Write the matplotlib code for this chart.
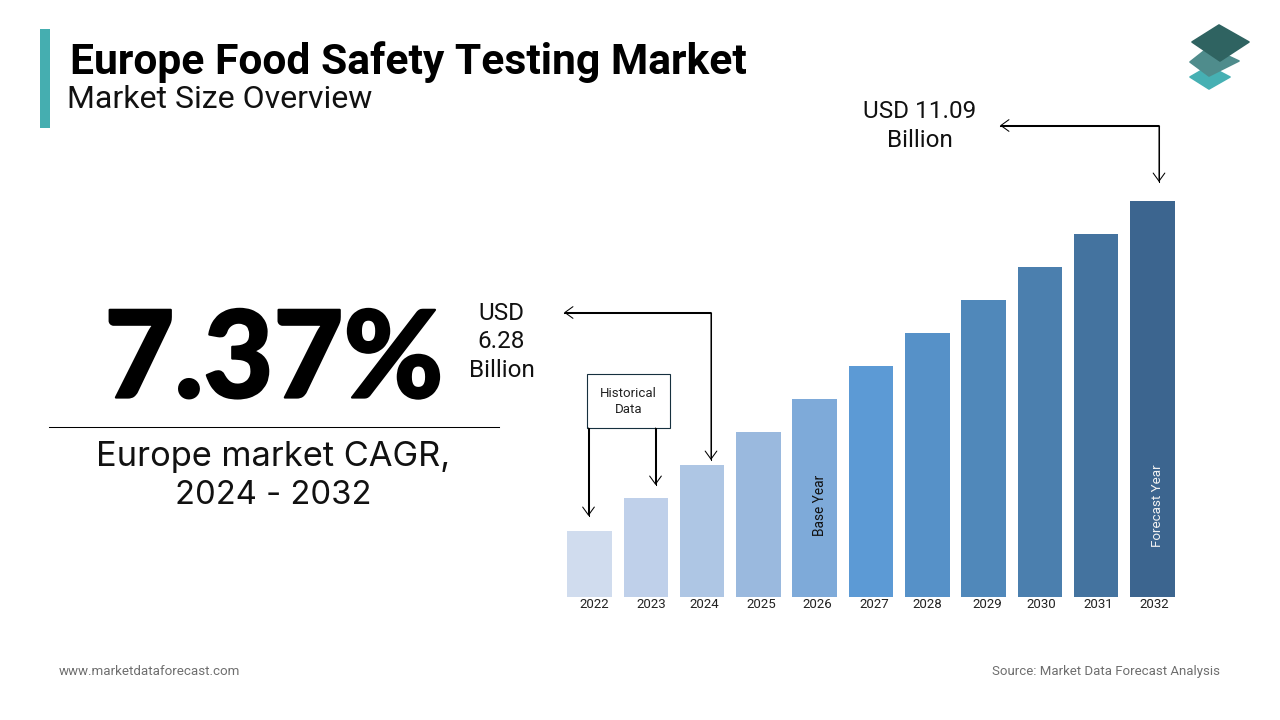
import matplotlib
matplotlib.use("Agg")
import matplotlib.pyplot as plt
import matplotlib.patheffects as pe
from matplotlib.patches import Rectangle, Polygon

years = ['2022','2023','2024','2025','2026','2027','2028','2029','2030','2031','2032']
bar_heights = [66, 99, 132, 165, 198, 231, 264, 297, 330, 363, 396]
bar_colors = ['#d0dcee','#bfd0ea','#aec6e4','#9ab9de','#7eaad9','#5c9ad5','#5691c8','#5088ba','#4b7fae','#44739f','#3c658f']
label_shift = [4.5, 5, 2, 3, 2.5, 3, 0, 3.5, 1, 2, 1.5]

W, H = 1280, 720
fig = plt.figure(figsize=(W/100, H/100), dpi=100, facecolor='white')
plt.rcParams['font.family'] = ['Roboto', 'DejaVu Sans']

ov = fig.add_axes([0, 0, 1, 1])
ov.set_xlim(0, W); ov.set_ylim(H, 0); ov.axis('off')

L, R, B, T = 561.35, 1180.65, 597, 201
ax = fig.add_axes([L/W, 1-B/H, (R-L)/W, (B-T)/H])
ax.patch.set_alpha(0)
x = list(range(len(years)))
ax.bar(x, bar_heights, width=0.79, color=bar_colors)
ax.set_xlim(-0.5, 10.5); ax.set_ylim(0, 396)
ax.axis('off')
for i, y in enumerate(years):
    ax.annotate(y, (i, 0), xytext=(label_shift[i]*0.72, -5.3), textcoords='offset points',
                ha='center', va='center', fontsize=9.5, color='#222222')
ax.text(4.09, 92, 'Base Year', rotation=90, ha='center', va='center', fontsize=9.8, color='#111111')
ax.text(10.09, 91, 'Forecast Year', rotation=90, ha='center', va='center', fontsize=9.6, color='#f2f2f2')

# header
ov.add_patch(Rectangle((40, 29), 10, 99, color='#45aeb0', lw=0))
ov.text(70, 62.5, 'Europe Food Safety Testing Market', fontsize=30.72, fontweight='bold', va='center', ha='left', color='black')
ov.text(67, 99, 'Market Size Overview', fontsize=23.0, va='center', ha='left', color='#111111')

# logo
ov.add_patch(Polygon([(1209,66),(1230,77),(1209,89),(1190,77)], closed=True, fc='#46b0b3', ec='#46b0b3', lw=1.2, joinstyle='round'))
ov.add_patch(Polygon([(1209,47),(1239,61),(1209,76),(1190,62)], closed=True, fc='#4f8c8c', ec='#4f8c8c', lw=1.2, joinstyle='round'))
ov.add_patch(Polygon([(1219,25),(1249,42),(1220,61),(1192,42)], closed=True, fc='#2f6361', ec='#2f6361', lw=1.2, joinstyle='round'))

# CAGR block
big = ov.text(274, 397.5, '7.37%', fontsize=87, family='Lato', fontweight=900, ha='center', va='baseline', color='black')
big.set_path_effects([pe.withStroke(linewidth=1.6, foreground='black')])
ov.plot([49, 499], [427, 427], color='black', lw=0.75)
ov.text(273.5, 457, 'Europe market CAGR,', fontsize=24.8, family='Inter', ha='center', va='center', color='#111111')
ov.text(273, 495, '2024 - 2032', fontsize=23.6, family='Inter', ha='center', va='center', color='#111111')

# callouts
ov.text(919.5, 126, 'USD 11.09\nBillion', fontsize=17.5, ha='center', va='center', linespacing=1.33, color='#111111')
ov.text(501.5, 342, 'USD\n6.28\nBillion', fontsize=17.5, ha='center', va='center', linespacing=1.3, color='#111111')

def arrow(p0, p1):
    ov.plot([p0[0], p1[0]], [p0[1], p1[1]], color='black', lw=0.75)
    ov.annotate('', xy=p1, xytext=p0,
                arrowprops=dict(arrowstyle='->,head_length=0.58,head_width=0.42', color='black', lw=0.75, shrinkA=0, shrinkB=0))

arrow((1159,125.5),(1000,125.5))
arrow((1159,125.5),(1159,182))
arrow((711,312.5),(564,312.5))
arrow((711,312.5),(711,460))
arrow((588.5,428),(588.5,516))
arrow((655.5,428),(655.5,485))

ov.add_patch(Rectangle((587, 373.5), 82.5, 54, fc='white', ec='#16303f', lw=0.8))
ov.text(628.5, 401.5, 'Historical\nData', fontsize=9.5, ha='center', va='center', linespacing=1.3, color='#222222')

# footer
ov.text(59, 671.5, 'www.marketdataforecast.com', fontsize=9.6, va='center', ha='left', color='#6e6e6e')
ov.text(1220, 671, 'Source: Market Data Forecast Analysis', fontsize=9.58, va='center', ha='right', color='#6e6e6e')

fig.savefig('out.png', dpi=100, facecolor='white')
